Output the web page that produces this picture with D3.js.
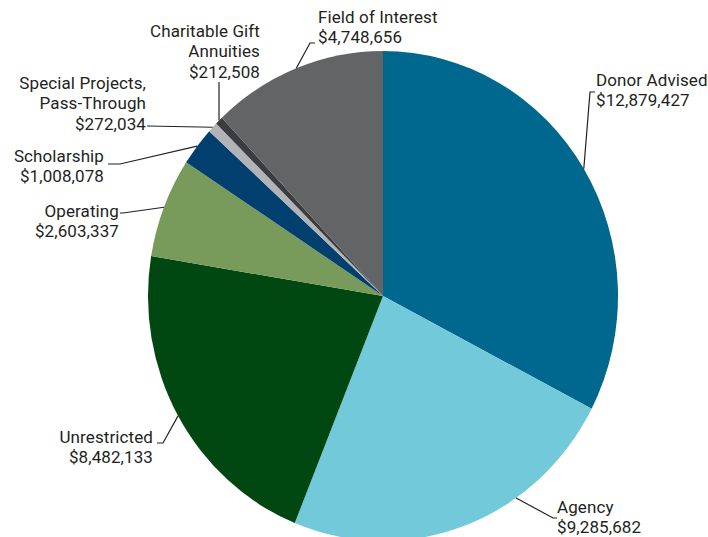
<!DOCTYPE html>
<html>
<head>
<meta charset="utf-8">
<script src="https://cdn.jsdelivr.net/npm/d3@7"></script>
<style>
  html, body { margin: 0; padding: 0; background: #ffffff; }
  svg { display: block; }
  text { font-family: Roboto, "Noto Sans", sans-serif; font-size: 17px; letter-spacing: 0.1px; fill: #231f20; }
</style>
</head>
<body>
<svg id="chart" width="708" height="537"></svg>
<script>
// ---- data ----
const categories = ["Donor Advised", "Agency", "Unrestricted", "Operating", "Scholarship",
  "Special Projects, Pass-Through", "Charitable Gift Annuities", "Field of Interest"];
const values = [12879427, 9285682, 8482133, 2603337, 1008078, 272034, 212508, 4748656];
const labelLines = [
  ["Donor Advised"],
  ["Agency"],
  ["Unrestricted"],
  ["Operating"],
  ["Scholarship"],
  ["Special Projects,", "Pass-Through"],
  ["Charitable Gift", "Annuities"],
  ["Field of Interest"]
];
const colors = ["#00678f", "#72c9d9", "#004712", "#789b5c", "#003f6e", "#b1b3b6", "#3c3c3e", "#636466"];

// ---- layout (label placement) ----
const cx = 383, cy = 296, rx = 235, ry = 245;
const labelLayout = [
  { anchorDeg: null,  path: [[590, 92], [595, 92]],   tx: 596, ty: 86,  align: "start" },
  { anchorDeg: 145.5, path: [[553, 518], [557, 518]], tx: 557, ty: 513, align: "start" },
  { anchorDeg: null,  path: [[163, 443], [157, 443]], tx: 153, ty: 443, align: "end" },
  { anchorDeg: null,  path: [[123, 213], [120, 213]], tx: 119, ty: 217, align: "end" },
  { anchorDeg: null,  path: [[120, 164], [108, 164]], tx: 104, ty: 162, align: "end" },
  { anchorDeg: null,  path: [[147, 126]],             tx: 146, ty: 89,  align: "end" },
  { anchorDeg: null,  path: [[219, 82]],              tx: 260, ty: 37,  align: "end" },
  { anchorDeg: null,  path: [[310, 43], [315, 43]],   tx: 318, ty: 23,  align: "start" }
];
const lineHeight = 20.3;

const svg = d3.select("#chart");
const data = categories.map((c, i) => ({ name: c, value: values[i], color: colors[i], i }));

const pie = d3.pie().sort(null).value(d => d.value);
const arcs = pie(data);
const arc = d3.arc().innerRadius(0).outerRadius(rx);

const g = svg.append("g").attr("transform", `translate(${cx},${cy}) scale(1,${ry / rx})`);
g.selectAll("path.slice")
  .data(arcs)
  .join("path")
  .attr("class", "slice")
  .attr("d", arc)
  .attr("fill", d => d.data.color);

const fmt = d3.format("$,");

function edgePoint(angleRad) {
  return [cx + rx * Math.sin(angleRad), cy - ry * Math.cos(angleRad)];
}

const labels = svg.append("g");
arcs.forEach((a, i) => {
  const L = labelLayout[i];
  const ang = L.anchorDeg == null ? (a.startAngle + a.endAngle) / 2 : L.anchorDeg * Math.PI / 180;
  const pts = [edgePoint(ang), ...L.path];
  labels.append("path")
    .attr("d", d3.line()(pts))
    .attr("fill", "none")
    .attr("stroke", "#231f20")
    .attr("stroke-width", 1.2);
  const lines = [...labelLines[i], fmt(a.data.value)];
  const t = labels.append("text")
    .attr("text-anchor", L.align)
    .attr("x", L.tx)
    .attr("y", L.ty);
  lines.forEach((ln, k) => {
    t.append("tspan").attr("x", L.tx).attr("dy", k === 0 ? 0 : lineHeight).text(ln);
  });
});
</script>
</body>
</html>
